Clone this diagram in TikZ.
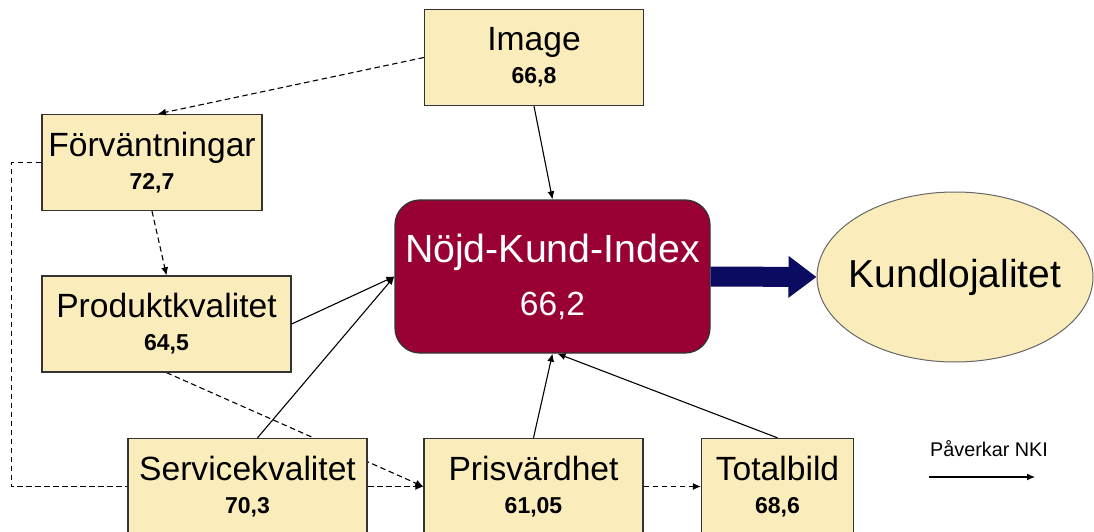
\documentclass[tikz,border=0pt]{standalone}
\usepackage{fontspec}
\setmainfont{Liberation Sans}
\usetikzlibrary{arrows.meta,backgrounds,shapes.geometric}

\definecolor{boxfill}{HTML}{FAEDBB}
\definecolor{nkired}{HTML}{990033}
\definecolor{navyarrow}{HTML}{0B0B62}

\newcommand{\boxtext}[2]{#1\\{\fontsize{23}{28}\selectfont\bfseries #2}}

\begin{document}
\begin{tikzpicture}[
  x=1pt, y=-1pt,
  block/.style={rectangle, draw=black!80, line width=1.3pt, fill=boxfill, align=center, inner sep=0pt, minimum height=96pt, font=\fontsize{33.6}{33}\selectfont},
  nkibox/.style={rectangle, rounded corners=25pt, draw=black!80, line width=1.3pt, fill=nkired, text=white, align=center, minimum width=315pt, minimum height=153pt, font=\fontsize{39.3}{53}\selectfont},
  arrow/.style={-{Latex[length=8pt,width=7pt]}, line width=1.1pt},
  dasharrow/.style={arrow, dash pattern=on 5.5pt off 3.5pt}
]
\useasboundingbox (0,0) rectangle (1094,532);
\clip (0,0) rectangle (1094,532);

\node[block, minimum width=219pt] (img) at (534,57.5) {\boxtext{Image}{66,8}};
\node[block, minimum width=220pt] (forv) at (152,162.5) {\boxtext{Förväntningar}{72,7}};
\node[block, minimum width=249pt] (prod) at (166.5,324) {\boxtext{Produktkvalitet}{64,5}};
\node[block, minimum width=239pt] (serv) at (247.5,486.5) {\boxtext{Servicekvalitet}{70,3}};
\node[block, minimum width=219pt] (pris) at (533.5,486.5) {\boxtext{Prisvärdhet}{61,05}};
\node[block, minimum width=152pt] (tot) at (777.5,486.5) {\boxtext{Totalbild}{68,6}};
\node[nkibox] (nki) at (552.5,276.5) {Nöjd-Kund-Index\\{\fontsize{33.5}{40}\selectfont 66,2}};
\node[ellipse, draw=black!60, line width=1pt, fill=boxfill, inner sep=0pt, minimum width=276pt, minimum height=170pt, font=\fontsize{39}{45}\selectfont] (kund) at (955,277) {\makebox[150pt][c]{Kundlojalitet}};
\node[font=\fontsize{19.8}{24}\selectfont] (legend) at (989,449) {Påverkar NKI};
\coordinate (legA) at (929,477);
\coordinate (legB) at (1035,477);

% dashed links that run behind the boxes
\begin{scope}[on background layer]
\draw[dasharrow] (forv.west) -- ++(-30,0) |- (pris.west);
\draw[dasharrow] (prod.south) -- (pris.west);
\end{scope}

\draw[dasharrow] (img.west) -- ([xshift=6pt]forv.north);
\draw[dasharrow] (forv.south) -- (prod.north);
\draw[dasharrow] (pris.east) -- (tot.west);

\draw[arrow] (img.south) -- (nki.north);
\draw[arrow] (prod.east) -- (nki.west);
\draw[arrow] ([xshift=10pt]serv.north) -- (nki.west);
\draw[arrow] (pris.north) -- (nki.south);
\draw[arrow] (tot.north) -- ([xshift=5pt]nki.south);
\draw[navyarrow, line width=20pt, -{Triangle[length=28pt,width=40pt]}] (nki.east) -- (kund.west);

\draw[arrow] (legA) -- (legB);
\end{tikzpicture}
\end{document}
